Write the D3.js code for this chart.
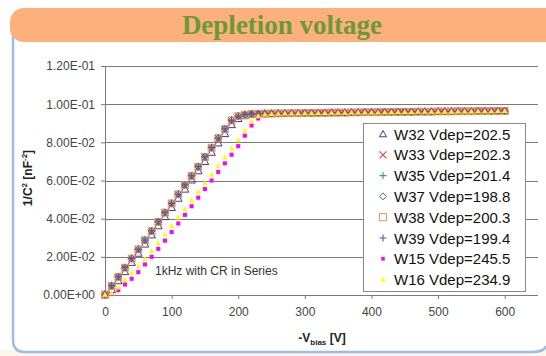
<!DOCTYPE html>
<html><head><meta charset="utf-8">
<script src="https://cdn.jsdelivr.net/npm/d3@7"></script>
<style>body{margin:0;background:#fff;overflow:hidden}svg{display:block}</style>
</head><body>
<script>
// ---------- data ----------
const voltages = [0,10,20,30,40,50,60,70,80,90,100,110,120,130,140,150,160,170,180,190,200,
  210,220,230,240,250,260,270,280,290,300,310,320,330,340,350,360,370,380,390,400,
  410,420,430,440,450,460,470,480,490,500,510,520,530,540,550,560,570,580,590,600];
const plateauA = [0.0950,0.0951,0.0951,0.0952,0.0952,0.0953,0.0953,0.0954,0.0954,0.0955,0.0955,0.0956,0.0956,0.0956,0.0957,0.0957,0.0958,0.0958,0.0958,0.0959,0.0959,0.0960,0.0960,0.0960,0.0961,0.0961,0.0961,0.0962,0.0962,0.0962,0.0963,0.0963,0.0963,0.0964,0.0964,0.0964,0.0965,0.0965];
const w32 = [0.0000,0.0028,0.0075,0.0123,0.0171,0.0219,0.0267,0.0315,0.0363,0.0411,0.0459,0.0507,0.0555,0.0603,0.0651,0.0700,0.0748,0.0797,0.0846,0.0893,0.0925,0.0940,0.0946].concat(plateauA);
const w33 = [0.0003,0.0047,0.0094,0.0142,0.0190,0.0238,0.0286,0.0334,0.0382,0.0430,0.0478,0.0526,0.0574,0.0622,0.0670,0.0722,0.0770,0.0820,0.0868,0.0912,0.0935,0.0944,0.0948].concat(plateauA);
const w35 = [0.0003,0.0048,0.0095,0.0143,0.0191,0.0239,0.0287,0.0335,0.0383,0.0431,0.0479,0.0527,0.0575,0.0623,0.0671,0.0723,0.0771,0.0821,0.0869,0.0914,0.0936,0.0945,0.0948].concat(plateauA);
const w37 = [0.0004,0.0049,0.0096,0.0144,0.0192,0.0240,0.0288,0.0336,0.0384,0.0433,0.0481,0.0529,0.0577,0.0625,0.0673,0.0725,0.0773,0.0823,0.0872,0.0917,0.0938,0.0946,0.0949].concat(plateauA);
const w38 = [0.0003,0.0048,0.0095,0.0143,0.0191,0.0239,0.0287,0.0335,0.0383,0.0432,0.0480,0.0528,0.0576,0.0624,0.0672,0.0724,0.0772,0.0822,0.0870,0.0915,0.0937,0.0945,0.0949].concat(plateauA);
const w39 = [0.0004,0.0049,0.0096,0.0144,0.0192,0.0240,0.0288,0.0336,0.0384,0.0432,0.0480,0.0528,0.0577,0.0625,0.0673,0.0724,0.0773,0.0823,0.0871,0.0916,0.0937,0.0946,0.0949].concat(plateauA);
const w15 = [0.0000,0.0005,0.0025,0.0055,0.0085,0.0120,0.0160,0.0200,0.0242,0.0285,0.0330,0.0375,0.0420,0.0465,0.0510,0.0555,0.0600,0.0645,0.0690,0.0735,0.0780,0.0835,0.0888,0.0925,0.0942,0.0948,0.0950].concat(plateauA.slice(4));
const w16 = [0.0002,0.0010,0.0040,0.0080,0.0115,0.0150,0.0190,0.0232,0.0274,0.0318,0.0362,0.0407,0.0452,0.0497,0.0542,0.0587,0.0632,0.0677,0.0722,0.0767,0.0812,0.0862,0.0910,0.0938,0.0947,0.0950,0.0951].concat(plateauA.slice(4));
const seriesNames = ["W32 Vdep=202.5","W33 Vdep=202.3","W35 Vdep=201.4","W37 Vdep=198.8","W38 Vdep=200.3","W39 Vdep=199.4","W15 Vdep=245.5","W16 Vdep=234.9"];
const seriesValues = [w32,w33,w35,w37,w38,w39,w15,w16];
const xTicks = [0,100,200,300,400,500,600];
const yTicks = [0,0.02,0.04,0.06,0.08,0.10,0.12];
const yTickLabels = ["0.00E+00","2.00E-02","4.00E-02","6.00E-02","8.00E-02","1.00E-01","1.20E-01"];

// ---------- styles ----------
const styles = [
  {shape:"tri",  color:"#3c3c9c", fill:"none", size:3.8},
  {shape:"x",    color:"#ee3b3b", fill:"none", size:3.3},
  {shape:"plus", color:"#2e9a9a", fill:"none", size:3.6},
  {shape:"diam", color:"#2f8060", fill:"none", size:3.6},
  {shape:"sq",   color:"#e69a55", fill:"none", size:3.4},
  {shape:"plus", color:"#6a4ab0", fill:"none", size:3.6},
  {shape:"sq",   color:"#ff00ff", fill:"#ff00ff", size:3.4},
  {shape:"tri",  color:"#ffff00", fill:"#ffff00", size:2.8}
];

const W = 546, H = 356;
const svg = d3.select("body").append("svg").attr("width", W).attr("height", H);

// background / card
svg.append("rect").attr("x",0).attr("y",0).attr("width",W).attr("height",H).attr("fill","#ffffff");
svg.append("rect").attr("x",0).attr("y",350).attr("width",W).attr("height",6).attr("fill","#faf6ea");
svg.append("rect").attr("x",13).attr("y",28).attr("width",531).attr("height",324).attr("rx",12)
  .attr("fill","#ffffff");
svg.append("path").attr("d","M13,30 L13,340 Q13,352 25,352 L532,352 Q544,352 546,346")
  .attr("fill","none").attr("stroke","#9dbde6").attr("stroke-width",2.5);

// banner
svg.append("rect").attr("x",10).attr("y",8).attr("width",560).attr("height",34).attr("rx",14)
  .attr("fill","#fdb07c");
svg.append("text").attr("x",282).attr("y",34).attr("text-anchor","middle")
  .attr("font-family","'Liberation Serif','DejaVu Serif',serif").attr("font-weight","bold")
  .attr("font-size",27).attr("fill","#6a9a36").text("Depletion voltage");

// scales
const pL = 105, pR = 538, pT = 66, pB = 295;
const x = d3.scaleLinear().domain([0,650]).range([pL,pR]);
const y = d3.scaleLinear().domain([0,0.12]).range([pB,pT]);

// gridlines
svg.append("g").selectAll("line").data(yTicks).join("line")
  .attr("x1",pL).attr("x2",pR).attr("y1",d=>Math.round(y(d))+0.5).attr("y2",d=>Math.round(y(d))+0.5)
  .attr("stroke","#7a7a7a").attr("stroke-width",1);

// axes
const yAxis = d3.axisLeft(y).tickValues(yTicks).tickSize(4).tickFormat((d,i)=>yTickLabels[i]);
const gy = svg.append("g").attr("transform",`translate(${pL},0)`).call(yAxis);
const xAxis = d3.axisBottom(x).tickValues(xTicks).tickSize(4).tickFormat(d3.format("d"));
const gx = svg.append("g").attr("transform",`translate(0,${pB})`).call(xAxis);
[gx,gy].forEach(g=>{
  g.select(".domain").attr("stroke","#7a7a7a");
  g.selectAll(".tick line").attr("stroke","#7a7a7a");
  g.selectAll("text").attr("font-family","'Liberation Sans',Arial,sans-serif").attr("font-size",12).attr("fill","#444");
});
gx.select(".domain").remove();
gy.selectAll("text").attr("x",-10);
gx.selectAll("text").attr("y",12);

// annotation
svg.append("text").attr("x",155).attr("y",275)
  .attr("font-family","'Liberation Sans',Arial,sans-serif").attr("font-size",12).attr("fill","#333")
  .text("1kHz with CR in Series");

// axis titles
const yt = svg.append("text").attr("transform","translate(32,178) rotate(-90)").attr("text-anchor","middle")
  .attr("font-family","'Liberation Sans',Arial,sans-serif").attr("font-size",12).attr("font-weight","bold").attr("fill","#222");
yt.append("tspan").text("1/C");
yt.append("tspan").attr("dy",-5).attr("font-size",8).text("2");
yt.append("tspan").attr("dy",5).text(" [nF");
yt.append("tspan").attr("dy",-5).attr("font-size",8).text("-2");
yt.append("tspan").attr("dy",5).text("]");

const xt = svg.append("text").attr("x",322).attr("y",342).attr("text-anchor","middle")
  .attr("font-family","'Liberation Sans',Arial,sans-serif").attr("font-size",12).attr("font-weight","bold").attr("fill","#222");
xt.append("tspan").text("-V");
xt.append("tspan").attr("dy",3).attr("font-size",8).text("bias");
xt.append("tspan").attr("dy",-3).text(" [V]");

// marker drawing
function drawMarker(g, st, cx, cy){
  const s = st.size || 3.5;
  if(st.shape==="tri"){
    g.append("path").attr("d",`M${cx},${cy-s}L${cx+s},${cy+s*0.8}L${cx-s},${cy+s*0.8}Z`)
      .attr("fill",st.fill).attr("stroke",st.fill==="none"?st.color:"none").attr("stroke-width",1);
  } else if(st.shape==="sq"){
    const h = st.fill==="none"?s:s*0.6;
    g.append("rect").attr("x",cx-h).attr("y",cy-h).attr("width",2*h).attr("height",2*h)
      .attr("fill",st.fill).attr("stroke",st.fill==="none"?st.color:"none").attr("stroke-width",1);
  } else if(st.shape==="diam"){
    g.append("path").attr("d",`M${cx},${cy-s}L${cx+s},${cy}L${cx},${cy+s}L${cx-s},${cy}Z`)
      .attr("fill","none").attr("stroke",st.color).attr("stroke-width",1);
  } else if(st.shape==="x"){
    g.append("path").attr("d",`M${cx-s},${cy-s}L${cx+s},${cy+s}M${cx-s},${cy+s}L${cx+s},${cy-s}`)
      .attr("stroke",st.color).attr("stroke-width",1.1);
  } else if(st.shape==="plus"){
    g.append("path").attr("d",`M${cx-s},${cy}L${cx+s},${cy}M${cx},${cy-s}L${cx},${cy+s}`)
      .attr("stroke",st.color).attr("stroke-width",1.1);
  }
}

// series
const plotG = svg.append("g");
seriesValues.forEach((vals,i)=>{
  const g = plotG.append("g");
  vals.forEach((v,j)=>drawMarker(g, styles[i], x(voltages[j]), y(v)));
});

// legend
const lg = svg.append("g");
lg.append("rect").attr("x",363.5).attr("y",123.5).attr("width",162).attr("height",168)
  .attr("fill","#fff").attr("stroke","#8a8a8a").attr("stroke-width",1);
seriesNames.forEach((name,i)=>{
  const cy = 134 + i*20.8;
  const st = Object.assign({}, styles[i]);
  st.size = (i===6) ? 3 : (i===7 ? 2.6 : 3.5);
  drawMarker(lg, st, 383, cy);
  lg.append("text").attr("x",394).attr("y",cy+5.5)
    .attr("font-family","'Liberation Sans',Arial,sans-serif").attr("font-size",15).attr("fill","#111")
    .text(name);
});
</script>
</body></html>
